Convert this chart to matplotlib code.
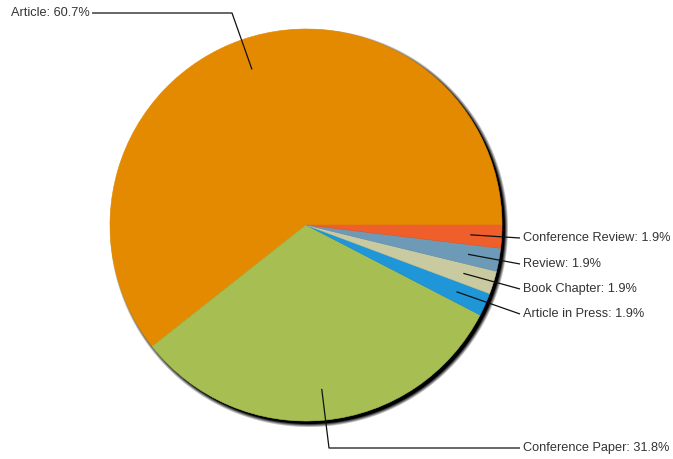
import numpy as np
import matplotlib
matplotlib.use("Agg")
import matplotlib.pyplot as plt

categories = ["Article", "Conference Paper", "Article in Press", "Book Chapter",
              "Review", "Conference Review"]
shares = [60.7, 31.8, 1.9, 1.9, 1.9, 1.9]
colors = ["#E48A00", "#A7BE52", "#1E96D8", "#CACAA0", "#6D9AB6", "#EE5F2B"]

W, H = 673, 459
fig = plt.figure(figsize=(W / 100, H / 100), dpi=100)
ax = fig.add_axes([0, 0, 1, 1])
ax.set_xlim(0, W)
ax.set_ylim(0, H)
ax.axis("off")

cx, cy, R = 306, H - 225, 196

# soft drop shadow behind the pie
yy, xx = np.mgrid[0:H, 0:W]
d = np.hypot(xx + 0.5 - (cx + 3), (H - yy - 0.5) - (cy - 3))
alpha = np.clip((R + 3.5 - d) / 4.0, 0, 1)
shadow = np.zeros((H, W, 4))
shadow[..., 3] = alpha
ax.imshow(shadow, extent=(0, W, 0, H), origin="upper", zorder=0,
          interpolation="bilinear")

wedges, _ = ax.pie(shares, colors=colors, startangle=0, counterclock=True,
                   center=(cx, cy), radius=R,
                   wedgeprops=dict(linewidth=0.4, antialiased=True))
for w in wedges:
    w.set_edgecolor(w.get_facecolor())
    w.set_zorder(2)
ax.set_xlim(0, W)
ax.set_ylim(0, H)
ax.set_aspect("equal")

text_kw = dict(fontsize=9.2, color="#333333", family=["Liberation Sans", "DejaVu Sans"],
               va="center", zorder=5)

# leader lines: elbow point and label anchor (pixel rows measured from top)
label_paths = {
    "Article": [(232, 13), (92, 13)],
    "Conference Paper": [(329, 448), (520, 448)],
    "Article in Press": [(520, 314)],
    "Book Chapter": [(520, 289)],
    "Review": [(520, 264)],
    "Conference Review": [(520, 238)],
}

for w, name, val in zip(wedges, categories, shares):
    mid = np.deg2rad((w.theta1 + w.theta2) / 2)
    sx = cx + 0.84 * R * np.cos(mid)
    sy = cy + 0.84 * R * np.sin(mid)
    pts = [(sx, sy)] + [(px, H - py) for px, py in label_paths[name]]
    xs, ys = zip(*pts)
    ax.plot(xs, ys, color="#111111", lw=0.9, zorder=4, solid_capstyle="butt")
    ex, ey = pts[-1]
    label = f"{name}: {val}%"
    if ex < cx:
        ax.text(ex - 2, ey, label, ha="right", **text_kw)
    else:
        ax.text(ex + 3, ey, label, ha="left", **text_kw)

fig.savefig("out.png", dpi=100)
